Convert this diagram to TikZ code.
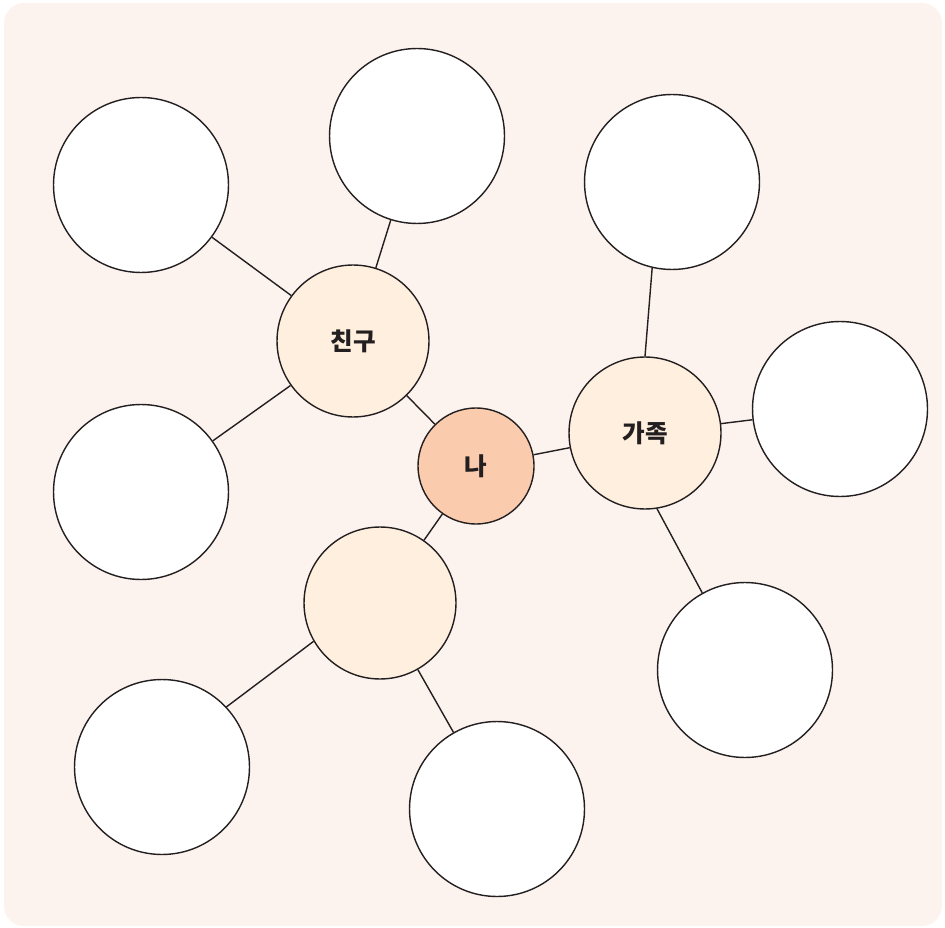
\documentclass[tikz,border=0pt]{standalone}
\usepackage{fontspec}
\newfontfamily\kr{Noto Sans CJK KR}
\definecolor{bgpink}{RGB}{252,243,239}
\definecolor{hubfill}{RGB}{254,239,222}
\definecolor{mefill}{RGB}{251,203,174}
\definecolor{edge}{RGB}{35,31,32}
\begin{document}
\begin{tikzpicture}[x=0.02cm,y=-0.02cm,
  leaf/.style={circle,draw=edge,line width=0.8pt,fill=white,minimum size=3.5cm,inner sep=0pt},
  hub/.style={circle,draw=edge,line width=0.8pt,fill=hubfill,minimum size=3.04cm,inner sep=0pt,font=\kr\bfseries\fontsize{14}{16}\selectfont,text=edge},
  me/.style={circle,draw=edge,line width=0.8pt,fill=mefill,minimum size=2.32cm,inner sep=0pt,font=\kr\bfseries\fontsize{14}{16}\selectfont,text=edge},
  link/.style={draw=edge,line width=0.8pt}]
\useasboundingbox (0,0) rectangle (945,928);
\fill[bgpink,rounded corners=0.4cm] (4,3) rectangle (942,926);
% nodes
\node[me] (me) at (476,466) {나};
\node[hub] (friend) at (353,341) {친구};
\node[hub] (family) at (645,433) {가족};
\node[hub] (third) at (380,603) {};
\node[leaf] (f1) at (141,185) {};
\node[leaf] (f2) at (417,136) {};
\node[leaf] (f3) at (141,492) {};
\node[leaf] (g1) at (672,182) {};
\node[leaf] (g2) at (840,409) {};
\node[leaf] (g3) at (745,670) {};
\node[leaf] (t1) at (162,767) {};
\node[leaf] (t2) at (497,809) {};
% connectors
\path[link] (me) -- (friend);
\path[link] (me) -- (family);
\path[link] (me) -- (third);
\path[link] (friend) -- (f1);
\path[link] (friend) -- (f2);
\path[link] (friend) -- (f3);
\path[link] (family.90) -- (g1.-103);
\path[link] (family) -- (g2);
\path[link] (family.-81) -- (g3.119);
\path[link] (third.-150) -- (t1.43);
\path[link] (third) -- (t2);
\end{tikzpicture}
\end{document}
